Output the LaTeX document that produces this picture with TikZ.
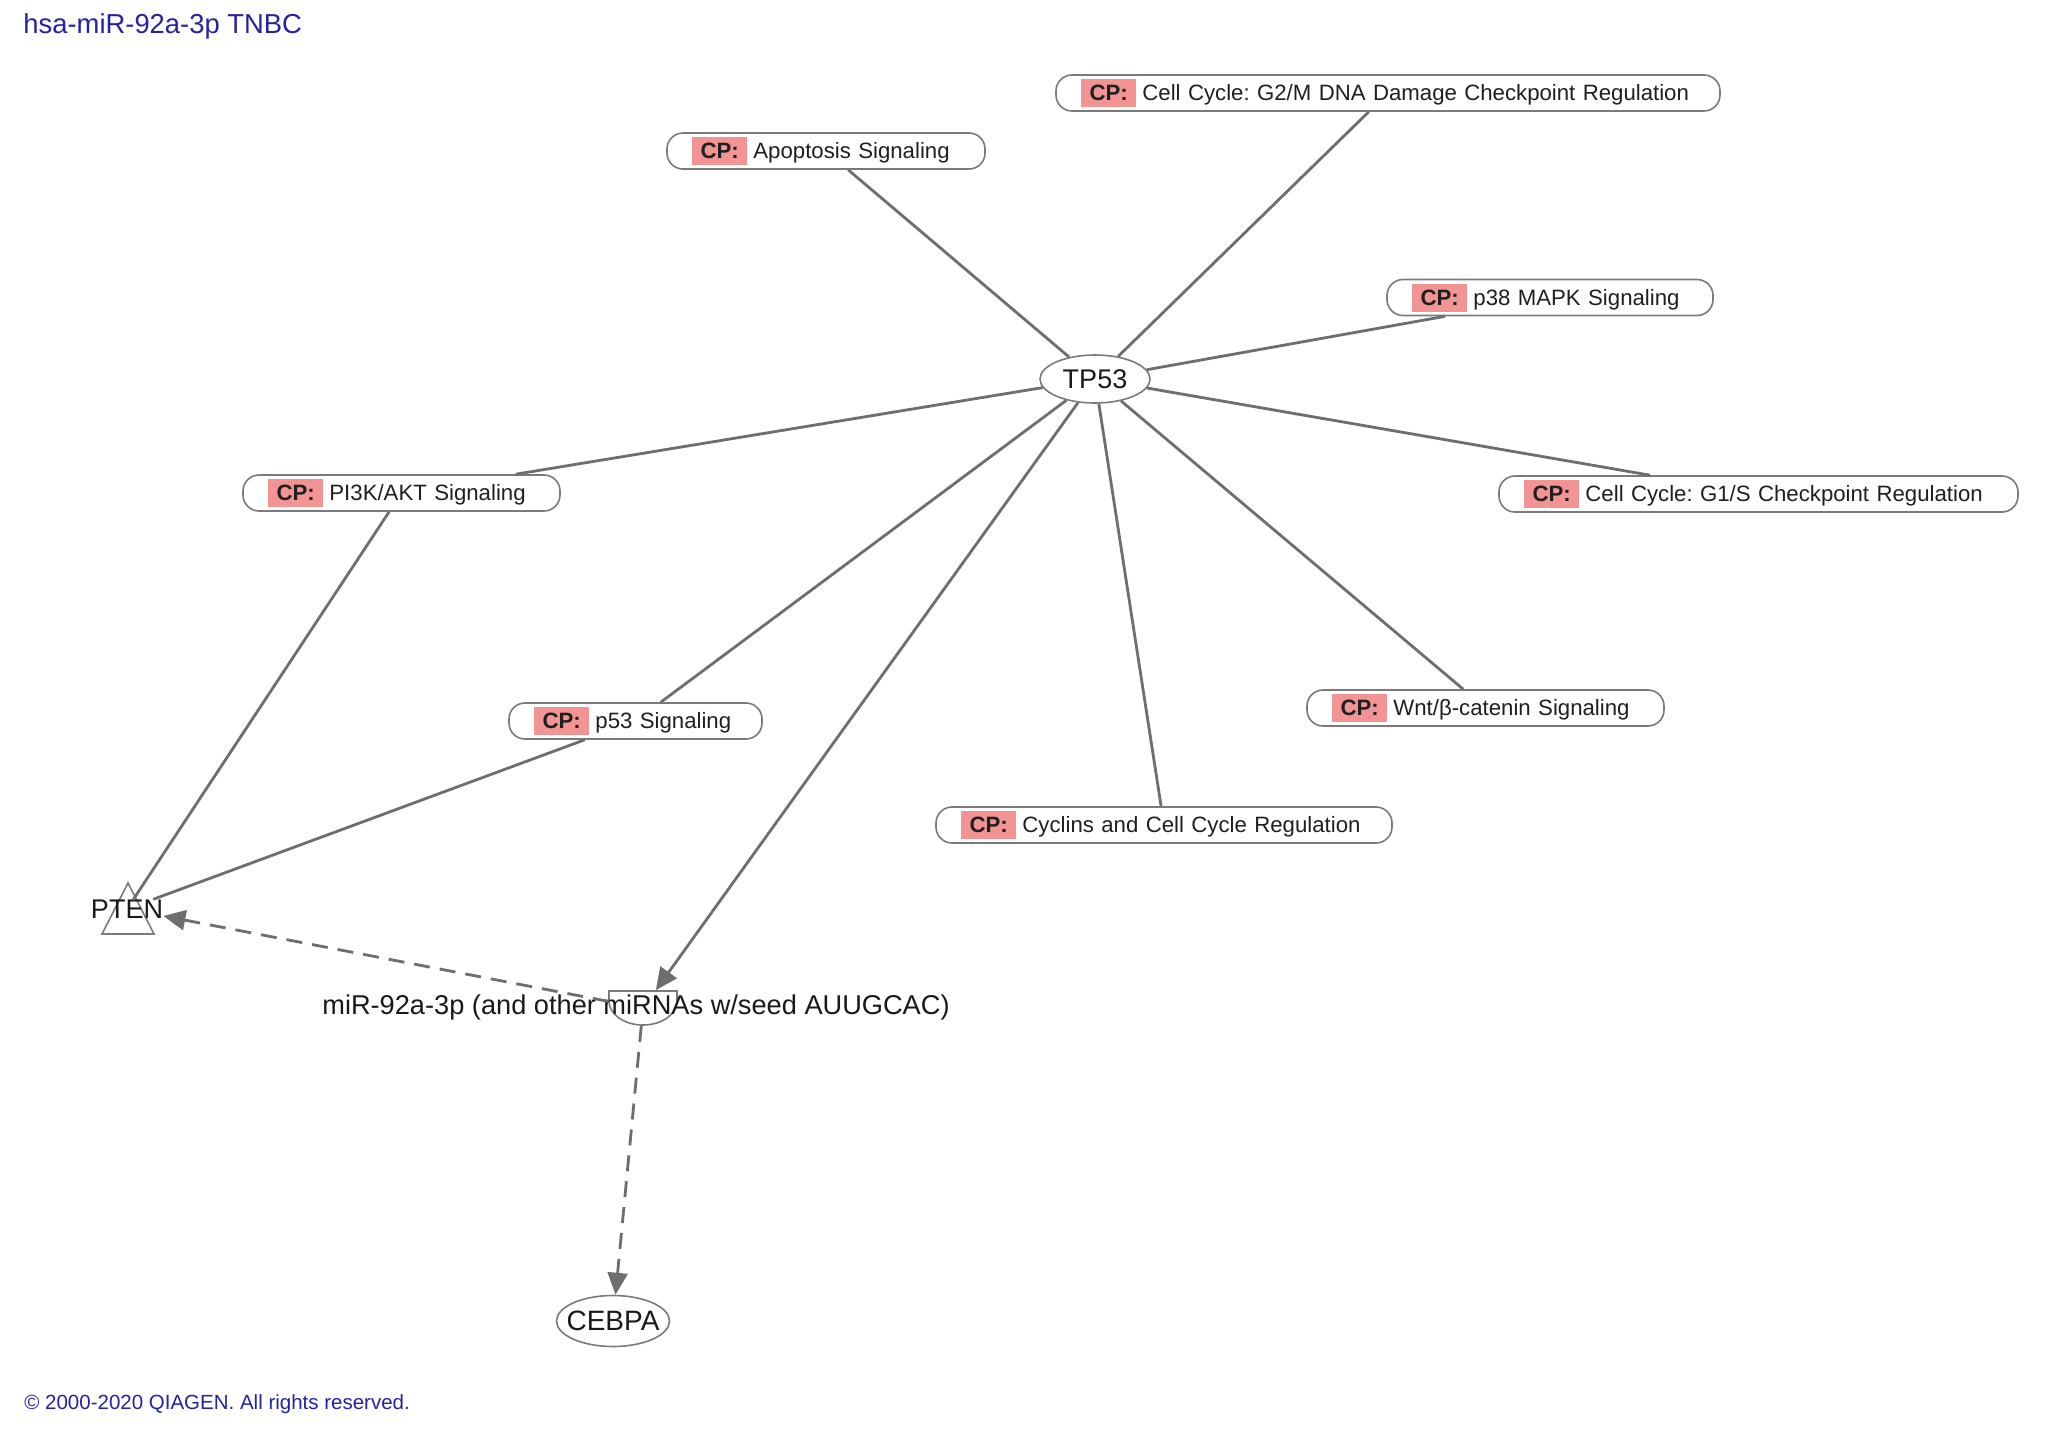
\documentclass[tikz,border=0pt]{standalone}
\usepackage{fontspec}
\setmainfont{Liberation Sans}
\usetikzlibrary{arrows.meta,shapes.geometric}
\frenchspacing
\definecolor{edgegray}{HTML}{6E6E6E}
\definecolor{outl}{HTML}{7A7A7A}
\definecolor{cpred}{HTML}{F29494}
\definecolor{titleblue}{HTML}{2424A0}
\newcommand{\cptag}{{\setlength{\fboxsep}{0pt}\colorbox{cpred}{\rule[-3.1pt]{0pt}{14pt}\hspace{4.3pt}\textbf{CP:}\hspace{4.3pt}}}\hspace{3pt}}
\newcommand{\cpt}[1]{\mbox{\cptag #1}}
\tikzset{
  cpbox/.style={draw=outl, line width=0.8pt, rounded corners=8pt, minimum height=18pt,
    inner xsep=12.5pt, inner ysep=0pt, font=\fontsize{11.1}{13}\selectfont, text=black!88,
    align=left, text width=#1},
  molel/.style={draw=outl, line width=0.8pt, ellipse, inner sep=0pt,
    font=\fontsize{13.5}{15}\selectfont, text=black!90},
  edge/.style={draw=edgegray, line width=1.4pt},
  arr/.style={-{Triangle[length=11pt,width=10pt]}},
  dash edge/.style={dash pattern=on 8pt off 5pt},
}
\begin{document}
\begin{tikzpicture}[x=0.5pt,y=-0.5pt]
\fill[white] (0,0) rectangle (2056,1436);
\path[use as bounding box] (0,0) rectangle (2056,1436);

% title and footer
\node[anchor=base west, inner sep=0pt, text=titleblue, font=\fontsize{13.7}{16}\selectfont] (title) at (23,33) {hsa-miR-92a-3p TNBC};
\node[anchor=base west, inner sep=0pt, text=titleblue, font=\fontsize{10.25}{12}\selectfont] (copy) at (24,1409) {© 2000-2020 QIAGEN. All rights reserved.};

% CP nodes
\node[cpbox=307pt] (g2m) at (1388,93) {\cpt{Cell Cycle: G2/M DNA Damage Checkpoint Regulation}};
\node[cpbox=134pt] (apo) at (826,151) {\cpt{Apoptosis Signaling}};
\node[cpbox=138pt] (p38) at (1550,297.5) {\cpt{p38 MAPK Signaling}};
\node[cpbox=133.5pt] (pi3k) at (401.5,493) {\cpt{PI3K/AKT Signaling}};
\node[cpbox=234.5pt] (g1s) at (1758.5,494) {\cpt{Cell Cycle: G1/S Checkpoint Regulation}};
\node[cpbox=101.5pt] (p53s) at (635.5,721) {\cpt{p53 Signaling}};
\node[cpbox=153.5pt] (wnt) at (1485.5,708) {\cpt{Wnt/β-catenin Signaling}};
\node[cpbox=203pt] (cyc) at (1164,825) {\cpt{Cyclins and Cell Cycle Regulation}};

% molecules
\node[molel, minimum width=55pt, minimum height=24pt] (tp53) at (1095,379) {\makebox[0pt]{TP53}};
\node[molel, minimum width=56.5pt, minimum height=25.5pt, font=\fontsize{14}{16}\selectfont] (cebpa) at (613,1321) {\makebox[0pt]{CEBPA}};

% PTEN triangle and label
\draw[outl, line width=0.8pt] (128,883) -- (154,934) -- (102,934) -- cycle;
\node[inner sep=0pt, font=\fontsize{13.5}{15}\selectfont, text=black!90] (pten) at (127,909) {PTEN};

% miRNA shape
\node[minimum width=34pt, minimum height=17.5pt, inner sep=0pt] (mir) at (643,1008) {};
\draw[outl, line width=0.8pt] (609,1001) -- (609,991) -- (677,991) -- (677,1001)
  arc[start angle=0, end angle=180, x radius=34, y radius=24];
\node[inner sep=0pt, font=\fontsize{13.6}{15}\selectfont, text=black!90] (mirlabel) at (636,1007) {miR-92a-3p (and other miRNAs w/seed AUUGCAC)};

% edges
\draw[edge] (tp53) -- (g2m);
\draw[edge] (tp53) -- (apo);
\draw[edge] (tp53) -- (p38);
\draw[edge] (tp53) -- (pi3k);
\draw[edge] (tp53) -- (g1s);
\draw[edge] (tp53) -- (p53s);
\draw[edge] (tp53) -- (wnt);
\draw[edge] (tp53) -- (cyc);
\draw[edge, arr] (tp53) -- (mir);
\draw[edge] (pi3k) -- (pten);
\draw[edge] (p53s) -- (pten);
\draw[edge, dash edge, arr] (mir) -- (pten);
\draw[edge, dash edge, arr] (mir) -- (cebpa);
\end{tikzpicture}
\end{document}
